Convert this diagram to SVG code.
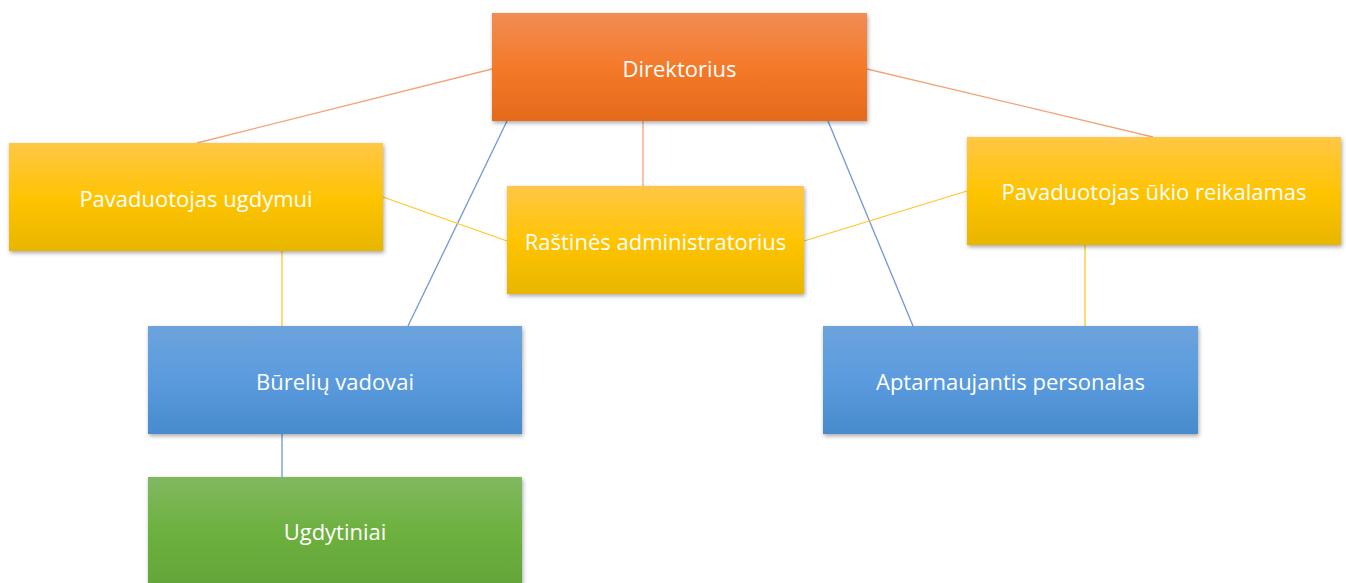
<svg xmlns="http://www.w3.org/2000/svg" width="1346" height="583" viewBox="0 0 1346 583">
<defs>
<linearGradient id="gOrange" x1="0" y1="0" x2="0" y2="1"><stop offset="0" stop-color="#F18C55"/><stop offset="0.5" stop-color="#F47A2A"/><stop offset="1" stop-color="#E46A1C"/></linearGradient>
<linearGradient id="gYellow" x1="0" y1="0" x2="0" y2="1"><stop offset="0" stop-color="#FFC746"/><stop offset="0.5" stop-color="#FFC404"/><stop offset="1" stop-color="#E8B600"/></linearGradient>
<linearGradient id="gBlue" x1="0" y1="0" x2="0" y2="1"><stop offset="0" stop-color="#6CA3DC"/><stop offset="0.5" stop-color="#5A9BDE"/><stop offset="1" stop-color="#478BCD"/></linearGradient>
<linearGradient id="gGreen" x1="0" y1="0" x2="0" y2="1"><stop offset="0" stop-color="#81B861"/><stop offset="0.5" stop-color="#6DB13F"/><stop offset="1" stop-color="#64A539"/></linearGradient>
<filter id="sh" x="-5%" y="-10%" width="110%" height="130%"><feDropShadow dx="1" dy="2" stdDeviation="2" flood-color="#000" flood-opacity="0.35"/></filter>
</defs>
<style>
.lbl{font-family:"Open Sans","Noto Sans","Liberation Sans",sans-serif;font-size:22px;fill:#ffffff;text-anchor:middle;dominant-baseline:central}
.cO{stroke:#F4A47A;stroke-width:1.3;fill:none}
.cB{stroke:#7396D6;stroke-width:1.3;fill:none}
.cY{stroke:#FFC62A;stroke-width:1.3;fill:none}
</style>
<g id="connectors">
<line class="cO" x1="492" y1="69" x2="197" y2="143"/>
<line class="cO" x1="867" y1="69" x2="1153" y2="137"/>
<line class="cO" x1="643" y1="121" x2="643" y2="186"/>
<line class="cB" x1="507" y1="121" x2="408" y2="326"/>
<line class="cB" x1="828" y1="121" x2="913" y2="326"/>
<line class="cY" x1="383" y1="197" x2="507" y2="241"/>
<line class="cY" x1="804" y1="241" x2="967" y2="191"/>
<line class="cY" x1="282" y1="251" x2="282" y2="326"/>
<line class="cY" x1="1085" y1="245" x2="1085" y2="326"/>
<line class="cB" x1="282" y1="434" x2="282" y2="477"/>
</g>
<g id="n-direktorius"><rect x="492" y="13" width="375" height="108" fill="url(#gOrange)" filter="url(#sh)"/><text class="lbl" x="679.5" y="68">Direktorius</text></g>
<g id="n-ugdymui"><rect x="9" y="143" width="374" height="108" fill="url(#gYellow)" filter="url(#sh)"/><text class="lbl" x="196" y="198">Pavaduotojas ugdymui</text></g>
<g id="n-rastines"><rect x="507" y="186" width="297" height="108" fill="url(#gYellow)" filter="url(#sh)"/><text class="lbl" x="655.5" y="241">Raštinės administratorius</text></g>
<g id="n-ukio"><rect x="967" y="137" width="374" height="108" fill="url(#gYellow)" filter="url(#sh)"/><text class="lbl" x="1154" y="191">Pavaduotojas ūkio reikalamas</text></g>
<g id="n-bureliu"><rect x="148" y="326" width="374" height="108" fill="url(#gBlue)" filter="url(#sh)"/><text class="lbl" x="335" y="381">Būrelių vadovai</text></g>
<g id="n-aptarnaujantis"><rect x="823" y="326" width="375" height="108" fill="url(#gBlue)" filter="url(#sh)"/><text class="lbl" x="1010.5" y="381">Aptarnaujantis personalas</text></g>
<g id="n-ugdytiniai"><rect x="148" y="477" width="374" height="108" fill="url(#gGreen)" filter="url(#sh)"/><text class="lbl" x="335" y="531">Ugdytiniai</text></g>
</svg>
